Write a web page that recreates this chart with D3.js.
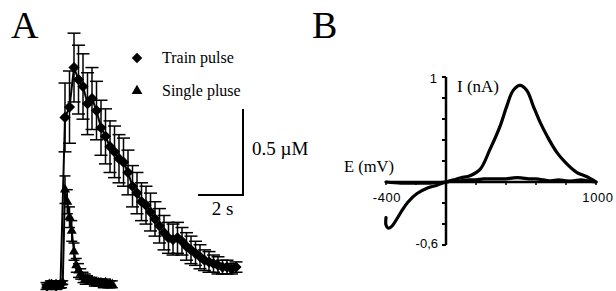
<!DOCTYPE html>
<html>
<head>
<meta charset="utf-8">
<script src="https://cdn.jsdelivr.net/npm/d3@7"></script>
<style>
body { margin:0; background:#fff; }
svg { display:block; }
.serif { font-family:"Liberation Serif","Times New Roman",serif; }
.sans { font-family:"Liberation Sans",Arial,sans-serif; }
</style>
</head>
<body>
<svg class="myChart" width="616" height="291"></svg>
<script>
// panel A : train pulse, 0.2 s step
const trainTime = d3.range(0, 43).map(i => +(i*0.2).toFixed(1));
const trainConc = [0.00,0.01,0.00,0.01,0.98,1.04,1.27,1.20,1.16,1.06,1.09,1.02,0.92,0.87,0.81,0.78,0.74,0.72,0.66,0.58,
	0.54,0.49,0.47,0.43,0.39,0.35,0.31,0.28,0.27,0.28,0.26,0.23,0.21,0.19,0.17,0.15,0.14,0.13,0.12,0.11,0.11,0.10,0.11];
const trainErr = [0.02,0.02,0.02,0.02,0.20,0.21,0.20,0.20,0.19,0.18,0.18,0.17,0.16,0.16,0.15,0.15,0.14,0.14,0.13,0.12,
	0.12,0.11,0.11,0.11,0.10,0.10,0.10,0.09,0.09,0.09,0.08,0.08,0.08,0.07,0.07,0.06,0.06,0.05,0.05,0.04,0.04,0.03,0.03];

// panel A : single pulse, 0.1 s step
const singleTime = d3.range(0, 30).map(i => +(i*0.1).toFixed(1));
const singleConc = [0.00,0.01,0.00,0.00,0.01,0.00,0.00,0.02,0.56,0.49,0.40,0.32,0.20,0.12,0.09,0.07,0.05,0.04,0.04,0.03,
	0.03,0.02,0.02,0.02,0.02,0.01,0.02,0.01,0.01,0.01];
const singleErr = [0.01,0.01,0.01,0.01,0.01,0.01,0.01,0.01,0.08,0.07,0.06,0.06,0.05,0.04,0.04,0.03,0.03,0.03,0.02,0.02,
	0.02,0.02,0.02,0.02,0.02,0.02,0.02,0.02,0.02,0.02];

const legendLabels = ["Train pulse", "Single pluse"];

// panel B : cyclic voltammogram
const fwdE = [-400,-300,-200,-100,0,50,100,160,227,293,360,407,447,493,540,580,627,673,740,807,873,940,1000];
const fwdI = [0,-0.01,-0.01,-0.01,0,0.02,0.04,0.06,0.12,0.31,0.53,0.73,0.87,0.92,0.87,0.73,0.57,0.44,0.28,0.17,0.09,0.05,0];
const revE = [1000,950,900,850,800,750,700,650,600,550,500,450,400,350,300,250,200,150,100,50,0,
	-60,-127,-193,-253,-293,-327,-360,-385,-400,-400];
const revI = [0,0.01,0.02,0.01,0.01,0.02,0.01,0.02,0.03,0.03,0.04,0.04,0.03,0.03,0.03,0.03,0.02,0.02,0.01,0.01,0,
	-0.03,-0.06,-0.11,-0.19,-0.27,-0.35,-0.42,-0.44,-0.41,-0.34];
const yTicksB = [1,0.8,0.6,0.4,0.2,0,-0.2,-0.4,-0.6];
const xTicksB = [-400,-200,0,200,400,600,800,1000];

const svg = d3.select('svg.myChart');

// ---------- panel A ----------
const xA = d3.scaleLinear().domain([0, 8.4]).range([47, 236]);
const yA = d3.scaleLinear().domain([0, 1]).range([286, 114]);

const gA = svg.append('g');

gA.append('text').attr('class','serif').attr('x',11).attr('y',38).attr('font-size','38px').text('A');

const drawSeries = (time, conc, err, symbol, size, capW) => {
	const data = time.map((t,i) => ({t:t, c:conc[i], e:err[i]}));
	const line = d3.line().x(d => xA(d.t)).y(d => yA(d.c));
	gA.append('path').datum(data)
	.attr('d', line)
	.attr('fill','none')
	.attr('stroke','#000')
	.attr('stroke-width',2);

	const eb = gA.append('g').attr('stroke','#000').attr('stroke-width',1.5);
	eb.selectAll('.v').data(data).enter().append('line')
	.attr('x1', d => xA(d.t)).attr('x2', d => xA(d.t))
	.attr('y1', d => yA(d.c + d.e)).attr('y2', d => yA(d.c - d.e));
	eb.selectAll('.top').data(data).enter().append('line')
	.attr('x1', d => xA(d.t) - capW/2).attr('x2', d => xA(d.t) + capW/2)
	.attr('y1', d => yA(d.c + d.e)).attr('y2', d => yA(d.c + d.e));
	eb.selectAll('.bot').data(data).enter().append('line')
	.attr('x1', d => xA(d.t) - capW/2).attr('x2', d => xA(d.t) + capW/2)
	.attr('y1', d => yA(d.c - d.e)).attr('y2', d => yA(d.c - d.e));

	gA.append('g').selectAll('path').data(data).enter().append('path')
	.attr('d', d3.symbol().type(symbol).size(size))
	.attr('transform', d => `translate(${xA(d.t)},${yA(d.c)})`)
	.attr('fill','#000');
};

drawSeries(singleTime, singleConc, singleErr, d3.symbolTriangle, 44, 11);
drawSeries(trainTime, trainConc, trainErr, d3.symbolDiamond2, 80, 13);

// legend
const legSym = [d3.symbolDiamond2, d3.symbolTriangle];
const legSize = [70, 50];
legendLabels.forEach((lab, i) => {
	const y = 58 + i*33;
	gA.append('path')
	.attr('d', d3.symbol().type(legSym[i]).size(legSize[i]))
	.attr('transform', `translate(137,${y})`)
	.attr('fill','#000');
	gA.append('text').attr('class','serif')
	.attr('x',162).attr('y', y + 5)
	.attr('font-size','16px')
	.text(lab);
});

// scale bar
const barX = 243, barY = 195;
const barW = xA(2) - xA(0);
const barH = yA(0) - yA(0.5);
gA.append('path')
.attr('d', `M${barX - barW},${barY}H${barX}V${barY - barH}`)
.attr('fill','none')
.attr('stroke','#000')
.attr('stroke-width',2);
gA.append('text').attr('class','serif').attr('x',barX + 9).attr('y',155).attr('font-size','19px').text('0.5 \u00b5M');
gA.append('text').attr('class','serif').attr('x',barX - barW/2 + 2).attr('y',215).attr('font-size','19px')
.attr('text-anchor','middle').text('2 s');

// ---------- panel B ----------
const xB = d3.scaleLinear().domain([-400, 1000]).range([386, 596]);
const yB = d3.scaleLinear().domain([-0.6, 1]).range([245, 77]);

const gB = svg.append('g');
gB.append('text').attr('class','serif').attr('x',312).attr('y',38).attr('font-size','38px').text('B');

// y axis
gB.append('line')
.attr('x1', xB(0)).attr('x2', xB(0))
.attr('y1', yB(1)).attr('y2', yB(-0.6))
.attr('stroke','#000').attr('stroke-width',2.5);
gB.selectAll('.ytick').data(yTicksB).enter().append('line')
.attr('x1', xB(0) - 4).attr('x2', xB(0))
.attr('y1', d => yB(d)).attr('y2', d => yB(d))
.attr('stroke','#000').attr('stroke-width',2);

// x axis
gB.append('line')
.attr('x1', xB(-400)).attr('x2', xB(1000))
.attr('y1', yB(0)).attr('y2', yB(0))
.attr('stroke','#000').attr('stroke-width',2.5);
gB.selectAll('.xtick').data(xTicksB).enter().append('line')
.attr('x1', d => xB(d)).attr('x2', d => xB(d))
.attr('y1', yB(0)).attr('y2', yB(0) + 3)
.attr('stroke','#000').attr('stroke-width',1.5);

// tick labels
gB.append('text').attr('class','sans').attr('x', xB(-400) + 1).attr('y', 202)
.attr('font-size','13px').attr('letter-spacing','0.6px').attr('text-anchor','middle').text('-400');
gB.append('text').attr('class','sans').attr('x', xB(1000) + 2).attr('y', 202)
.attr('font-size','13px').attr('letter-spacing','0.6px').attr('text-anchor','middle').text('1000');
gB.append('text').attr('class','sans').attr('x', xB(0) - 9).attr('y', yB(1) + 6)
.attr('font-size','13px').attr('text-anchor','end').text('1');
gB.append('text').attr('class','sans').attr('x', xB(0) - 8).attr('y', yB(-0.6) + 3)
.attr('font-size','13px').attr('text-anchor','end').text('-0,6');

// axis titles
gB.append('text').attr('class','serif').attr('x',457).attr('y',92).attr('font-size','17px').text('I (nA)');
gB.append('text').attr('class','serif').attr('x',344).attr('y',172).attr('font-size','16.5px').text('E (mV)');

// curve
const cvLine = d3.line().x(d => xB(d[0])).y(d => yB(d[1])).curve(d3.curveCatmullRom);
const fwd = fwdE.map((e,i) => [e, fwdI[i]]);
const rev = revE.map((e,i) => [e, revI[i]]);
[fwd, rev].forEach(branch => {
	gB.append('path').datum(branch)
	.attr('d', cvLine)
	.attr('fill','none')
	.attr('stroke','#000')
	.attr('stroke-width',3.2)
	.attr('stroke-linejoin','round')
	.attr('stroke-linecap','round');
});
</script>
</body>
</html>
